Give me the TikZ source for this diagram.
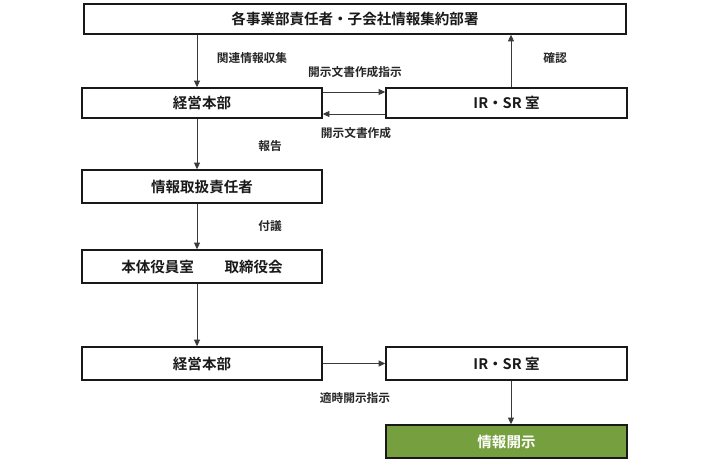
\documentclass[tikz,border=0pt]{standalone}
\usepackage{fontspec}
\setmainfont{Noto Sans CJK JP}[BoldFont={* Bold}]
\usetikzlibrary{arrows.meta}
\definecolor{grn}{HTML}{76A03F}
\definecolor{ln}{HTML}{3A3A3A}
\begin{document}
\begin{tikzpicture}[x=0.75pt,y=-0.75pt,
  box/.style={draw=black!90,line width=1.1pt,minimum height=22.5pt,inner sep=0pt,font=\bfseries\fontsize{10.9}{12}\selectfont,text=black!90},
  conn/.style={draw=ln,line width=0.7pt,-{Triangle[length=5pt,width=4.5pt]}},
  lbl/.style={font=\bfseries\fontsize{8.8}{10}\selectfont,text=black!85,inner sep=0pt}]
\useasboundingbox (0,0) rectangle (710,464);
\node[box,minimum width=406.5pt,minimum height=22.5pt] (top) at (355,19) {各事業部責任者・子会社情報集約部署};
\node[box,minimum width=180pt] (k1) at (202,103) {経営本部};
\node[box,minimum width=180.75pt] (ir1) at (506.5,103) {IR・SR 室};
\node[box,minimum width=180pt,minimum height=24.75pt] (jt) at (202,186.5) {情報取扱責任者};
\node[box,minimum width=180pt,minimum height=24.75pt] (yk) at (202,266.5) {本体役員室\hspace{2.1em}取締役会};
\node[box,minimum width=180pt,minimum height=24.75pt] (k2) at (202,363.5) {経営本部};
\node[box,minimum width=180.75pt,minimum height=24.75pt] (ir2) at (506.5,363.5) {IR・SR 室};
\node[box,minimum width=180.75pt,minimum height=24.75pt,fill=grn,text=white] (jk) at (506.5,441.5) {情報開示};
\coordinate (lx) at (197,0);
\coordinate (rx) at (511,0);
\coordinate (ua) at (0,92);
\coordinate (la) at (0,114);
\draw[conn] (top.south -| lx) -- (k1.north -| lx);
\draw[conn] (k1.east |- ua) -- (ir1.west |- ua);
\draw[conn] (ir1.west |- la) -- (k1.east |- la);
\draw[conn] (ir1.north -| rx) -- (top.south -| rx);
\draw[conn] (k1.south -| lx) -- (jt.north -| lx);
\draw[conn] (jt.south -| lx) -- (yk.north -| lx);
\draw[conn] (yk.south -| lx) -- (k2.north -| lx);
\draw[conn] (k2) -- (ir2);
\draw[conn] (ir2.south -| rx) -- (jk.north -| rx);
\node[lbl] (l1) at (252,58) {関連情報収集};
\node[lbl] (l2) at (355,72) {開示文書作成指示};
\node[lbl] (l3) at (356,133) {開示文書作成};
\node[lbl] (l4) at (555,58) {確認};
\node[lbl] (l5) at (270,146) {報告};
\node[lbl] (l6) at (270,226) {付議};
\node[lbl] (l7) at (355,398) {適時開示指示};
\end{tikzpicture}
\end{document}
